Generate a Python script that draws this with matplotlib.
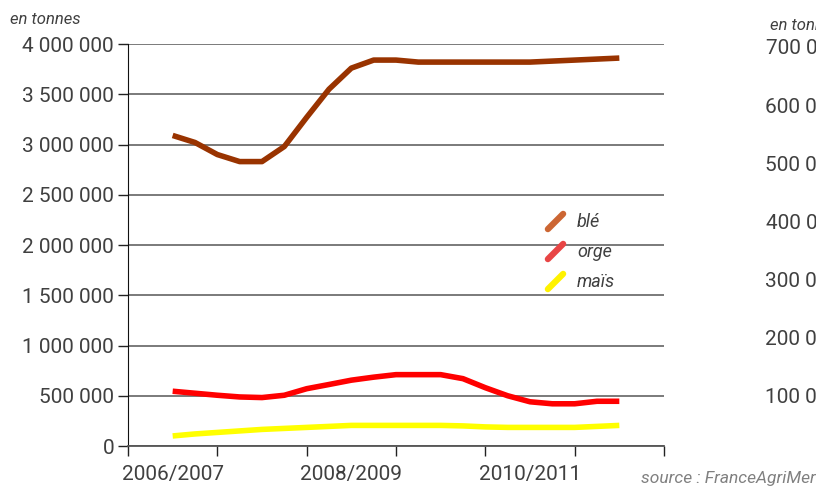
import matplotlib.pyplot as plt
from matplotlib.markers import MarkerStyle
from matplotlib.lines import Line2D
from matplotlib.ticker import FuncFormatter

# campagnes (une tous les 4 trimestres)
campagnes = ['2006/2007', '2007/2008', '2008/2009', '2009/2010', '2010/2011', '2011/2012']
trimestres = list(range(21))

ble = [3090000, 3020000, 2900000, 2830000, 2830000, 2980000, 3270000, 3550000, 3760000, 3840000,
       3840000, 3820000, 3820000, 3820000, 3820000, 3820000, 3820000, 3830000, 3840000, 3850000, 3860000]
orge = [545000, 525000, 505000, 488000, 482000, 505000, 570000, 612000, 655000, 685000,
        710000, 710000, 710000, 670000, 580000, 500000, 440000, 420000, 420000, 445000, 445000]
mais = [100000, 120000, 135000, 150000, 165000, 175000, 185000, 195000, 205000, 205000,
        205000, 205000, 205000, 200000, 190000, 185000, 185000, 185000, 185000, 195000, 205000]

# graphique voisin (coupé à droite)
voisin_ticks = [100000, 200000, 300000, 400000, 500000, 600000, 700000]

plt.rcParams['font.family'] = ['Roboto', 'DejaVu Sans']

def fmtEspace(v, pos):
    return '{:,.0f}'.format(v).replace(',', ' ')

fig = plt.figure(figsize=(8.16, 4.88), dpi=100)
ax = fig.add_axes([128 / 816, 42 / 488, 536 / 816, 402 / 488])

ax.plot(trimestres, ble, color='#993300', lw=4, solid_capstyle='butt', solid_joinstyle='round', zorder=3)
ax.plot(trimestres, orge, color='#FF0000', lw=4, solid_capstyle='butt', solid_joinstyle='round', zorder=3)
ax.plot(trimestres, mais, color='#FFFF00', lw=4, solid_capstyle='butt', solid_joinstyle='round', zorder=3)

ax.set_ylim(0, 4000000)
ax.set_yticks(range(0, 4000001, 500000))
ax.yaxis.set_major_formatter(FuncFormatter(fmtEspace))
ax.yaxis.grid(True, color='#6f6f6f', lw=1.3)
ax.set_axisbelow(True)

n = len(campagnes)
ax.set_xlim(-2, 4 * n - 2)
ax.set_xticks([4 * i - 2 for i in range(n + 1)])
ax.set_xticklabels([])
ax.set_xticks([4 * i for i in range(0, n, 2)], minor=True)
ax.set_xticklabels([campagnes[i] for i in range(0, n, 2)], minor=True)
ax.tick_params(axis='x', which='major', length=7, width=1, color='#222222')
ax.tick_params(axis='x', which='minor', length=0, pad=14, labelsize=15, labelcolor='#404040')
ax.tick_params(axis='y', length=7, width=1, color='#222222', labelsize=15, labelcolor='#404040', pad=3)

for s in ['top', 'right']:
    ax.spines[s].set_visible(False)
ax.spines['left'].set_color('#111111')
ax.spines['bottom'].set_color('#555555')
ax.spines['bottom'].set_linewidth(1.3)

fig.text(10 / 816, 1 - 19 / 488, 'en tonnes', fontsize=12, style='italic', color='#404040', va='center')

# légende à traits obliques
trait = MarkerStyle([(-1, -1), (1, 1)], capstyle='round')
poignees = [Line2D([], [], ls='none', marker=trait, markersize=11, markeredgewidth=4.5, markeredgecolor=c)
            for c in ['#CC6633', '#E84545', '#FFF200']]
ax.legend(poignees, ['blé', 'orge', 'maïs'], loc='upper left', bbox_to_anchor=(0.777, 0.58),
          frameon=False, prop={'style': 'italic', 'size': 13}, labelcolor='#404040',
          handlelength=1.2, handletextpad=0.6, labelspacing=0.68, borderaxespad=0, borderpad=0)

fig.text(1.0, 1 - 478 / 488, 'source : FranceAgriMer', fontsize=12.5, style='italic', color='#808080',
         ha='right', va='center')

# axe du graphique voisin, coupé par le bord de l'image
ax2 = fig.add_axes([846 / 816, (488 - 454) / 488, 0.3, 407 / 488])
ax2.set_ylim(0, 700000)
ax2.set_yticks(voisin_ticks)
ax2.yaxis.set_major_formatter(FuncFormatter(fmtEspace))
ax2.tick_params(axis='y', length=0, labelsize=15, labelcolor='#404040', pad=4)
ax2.set_xticks([])
for s in ax2.spines.values():
    s.set_visible(False)
fig.text(770 / 816, 1 - 25 / 488, 'en tonnes', fontsize=12, style='italic', color='#404040', va='center')

fig.savefig('out.png', dpi=100)
